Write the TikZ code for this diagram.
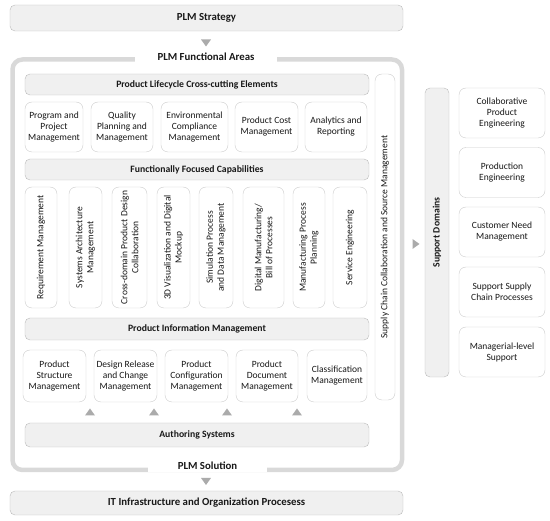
\documentclass[tikz,border=0pt]{standalone}
\usepackage{fontspec}
\setmainfont{Carlito}
\usetikzlibrary{positioning}

\begin{document}
\begin{tikzpicture}[
		x=1pt, y=-1pt,
		every node/.style={align=center, inner sep=0pt, outer sep=0pt, text=black!90, font=\fontsize{9.5}{11}\selectfont},
		bar/.style={draw=black!27, fill=black!6, rounded corners=5pt, font=\bfseries\fontsize{9.7}{11}\selectfont},
		topbar/.style={bar, font=\bfseries\fontsize{10.8}{12}\selectfont},
		item/.style={draw=black!20, fill=white, rounded corners=7pt},
		vitem/.style={item, rotate=90},
		frame/.style={draw=black!15, line width=4.5pt, rounded corners=10pt},
		heading/.style={fill=white, minimum height=12pt, font=\bfseries\fontsize{10.8}{12}\selectfont},
		marker/.style={fill=black!33}]

	\useasboundingbox (0,0) rectangle (550,521);

	% strategy and outer frame
	\node[topbar, minimum width=393, minimum height=26] (strategy) at (206.5,18) {PLM Strategy};
	\fill[marker] (206,43) +(-5,-3.5) -- +(5,-3.5) -- +(0,3.5) -- cycle;
	\draw[frame] (12.5,59.5) rectangle (402,470);
	\node[heading, minimum width=142] (functional) at (206,57) {PLM Functional Areas};
	\node[heading, minimum width=119] (solution) at (207.5,466) {PLM Solution};
	\fill[marker] (206,481.5) +(-5,-3.5) -- +(5,-3.5) -- +(0,3.5) -- cycle;
	\node[topbar, minimum width=393, minimum height=24] (infra) at (206.5,503) {IT Infrastructure and Organization Procesess};

	% cross-cutting elements
	\node[bar, minimum width=344, minimum height=21] (crosscut) at (197,84.5) {Product Lifecycle Cross-cutting Elements};
	\node[item, minimum width=58, minimum height=50] (program) at (54,127) {Program and\\Project\\Management};
	\node[item, minimum width=62, minimum height=50] (quality) at (122,127) {Quality\\Planning and\\Management};
	\node[item, minimum width=67, minimum height=50] (environment) at (194.5,127) {Environmental\\Compliance\\Management};
	\node[item, minimum width=63, minimum height=50] (cost) at (266.5,127) {Product Cost\\Management};
	\node[item, minimum width=62, minimum height=50] (analytics) at (336,127) {Analytics and\\Reporting};

	% functionally focused capabilities
	\node[bar, minimum width=344, minimum height=21] (focused) at (197,169.5) {Functionally Focused Capabilities};
	\node[vitem, minimum width=121, minimum height=32] (requirement) at (41,247.5) {Requirement Management};
	\node[vitem, minimum width=121, minimum height=33] (architecture) at (85.5,247.5) {Systems Architecture\\Management};
	\node[vitem, minimum width=121, minimum height=35] (crossdomain) at (129.5,247.5) {Cross-domain Product Design\\Collaboration};
	\node[vitem, minimum width=121, minimum height=33] (mockup) at (173.5,247.5) {3D Visualization and Digital\\Mockup};
	\node[vitem, minimum width=121, minimum height=34] (simulation) at (216,247.5) {Simulation Process\\and Data Management};
	\node[vitem, minimum width=121, minimum height=41] (digital) at (263.5,247.5) {Digital Manufacturing/\\Bill of Processes};
	\node[vitem, minimum width=121, minimum height=32] (planning) at (309,247.5) {Manufacturing Process\\Planning};
	\node[vitem, minimum width=121, minimum height=34] (service) at (350,247.5) {Service Engineering};

	% product information management
	\node[bar, minimum width=344, minimum height=22] (pim) at (197,329) {Product Information Management};
	\node[item, minimum width=63, minimum height=52] (structure) at (54.5,376) {Product\\Structure\\Management};
	\node[item, minimum width=63, minimum height=52] (release) at (125.5,376) {Design Release\\and Change\\Management};
	\node[item, minimum width=63, minimum height=52] (configuration) at (196.5,376) {Product\\Configuration\\Management};
	\node[item, minimum width=62, minimum height=52] (document) at (267,376) {Product\\Document\\Management};
	\node[item, minimum width=60, minimum height=52] (classification) at (337,376) {Classification\\Management};
	\foreach \x in {90,154,227,297}
		\fill[marker] (\x,412) +(-5,3.5) -- +(5,3.5) -- +(0,-3.5) -- cycle;
	\node[bar, minimum width=344, minimum height=24] (authoring) at (197,435) {Authoring Systems};

	% supply chain column
	\node[vitem, minimum width=326, minimum height=20] (supply) at (385,237) {Supply Chain Collaboration and Source Management};

	% support domains
	\fill[marker] (416,244) +(-3.5,-5) -- +(-3.5,5) -- +(3.5,0) -- cycle;
	\node[bar, rotate=90, minimum width=289, minimum height=24] (support) at (437,232.5) {Support Domains};
	\node[item, minimum width=86, minimum height=50] (collaborative) at (502,113) {Collaborative\\Product\\Engineering};
	\node[item, minimum width=86, minimum height=50] (production) at (502,172.5) {Production\\Engineering};
	\node[item, minimum width=86, minimum height=50] (customer) at (502,232) {Customer Need\\Management};
	\node[item, minimum width=86, minimum height=50] (supplyproc) at (502,292) {Support Supply\\Chain Processes};
	\node[item, minimum width=86, minimum height=50] (managerial) at (502,352) {Managerial-level\\Support};
\end{tikzpicture}
\end{document}
